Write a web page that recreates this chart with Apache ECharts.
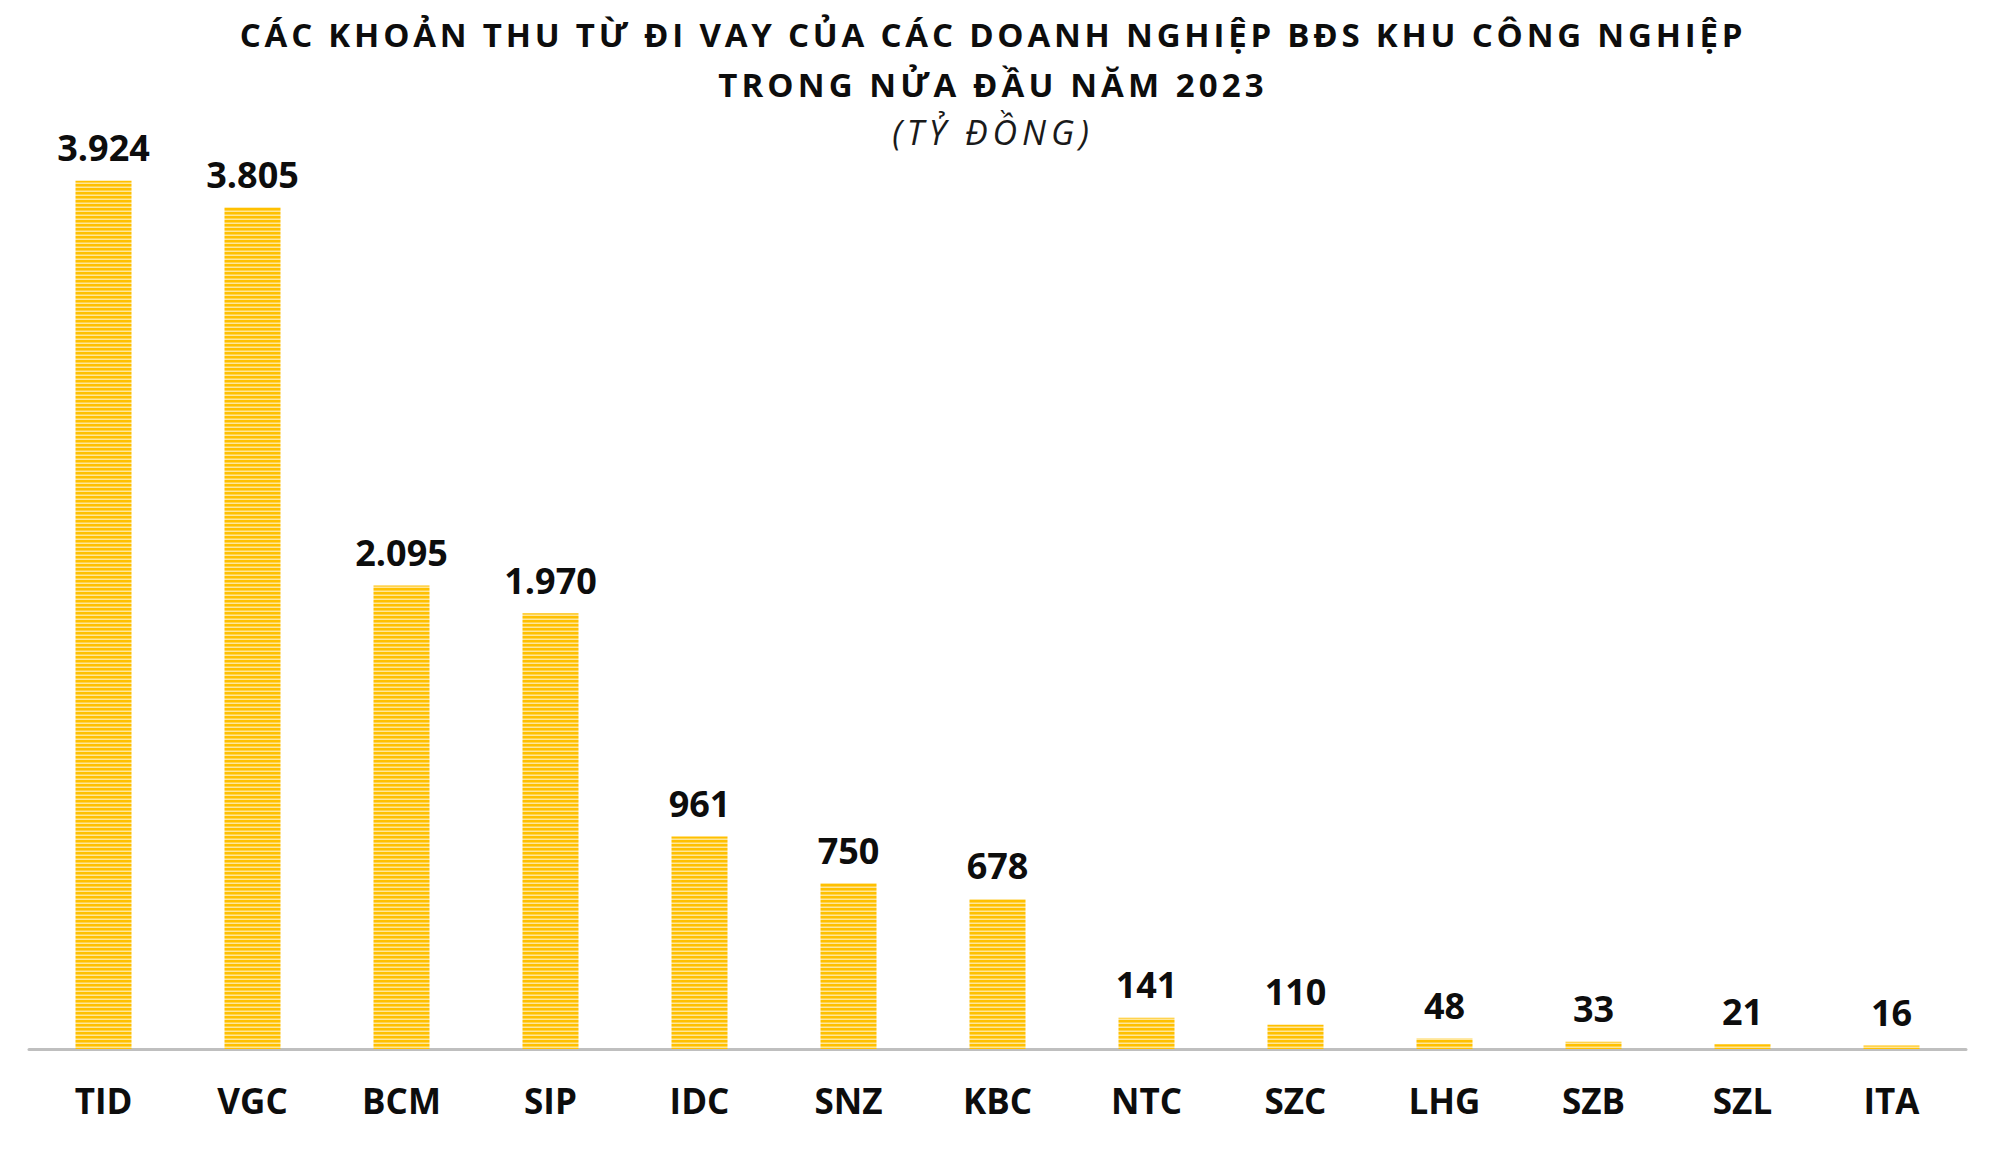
<!DOCTYPE html>
<html>
<head>
<meta charset="utf-8">
<title>Các khoản thu từ đi vay</title>
<script src="https://cdn.jsdelivr.net/npm/echarts@6/dist/echarts.min.js"></script>
<style>
  html, body { margin: 0; padding: 0; background: #fff; }
  #chart { width: 2000px; height: 1164px; }
</style>
</head>
<body>
<div id="chart"></div>
<script>
// data
var categories = ['TID', 'VGC', 'BCM', 'SIP', 'IDC', 'SNZ', 'KBC', 'NTC', 'SZC', 'LHG', 'SZB', 'SZL', 'ITA'];
var values = [3924, 3805, 2095, 1970, 961, 750, 678, 141, 110, 48, 33, 21, 16];
var titleLine1 = 'CÁC KHOẢN THU TỪ ĐI VAY CỦA CÁC DOANH NGHIỆP BĐS KHU CÔNG NGHIỆP';
var titleLine2 = 'TRONG NỬA ĐẦU NĂM 2023';
var unitText = '(TỶ ĐỒNG)';

// striped fill for the bars (yellow with pale lines)
function stripes() {
    var c = document.createElement('canvas');
    c.width = 8;
    c.height = 4;
    var ctx = c.getContext('2d');
    ctx.fillStyle = '#FFC000';
    ctx.fillRect(0, 0, 8, 4);
    ctx.fillStyle = '#FFE699';
    ctx.fillRect(0, 2.5, 8, 1.5);
    return c.toDataURL();
}

// 3924 -> "3.924"
function fmt(v) {
    return String(v).replace(/\B(?=(\d{3})+(?!\d))/g, '.');
}

var chart = echarts.init(document.getElementById('chart'), null, { renderer: 'svg' });

var titleFont = { fontFamily: 'Open Sans', fontWeight: 'bold', fontSize: 33, fill: '#0d0d0d', textAlign: 'center', textVerticalAlign: 'middle' };

chart.setOption({
    backgroundColor: '#ffffff',
    animation: false,
    graphic: [
        { type: 'text', x: 993, y: 34, style: Object.assign({ text: titleLine1 }, titleFont) },
        { type: 'text', x: 993, y: 84, style: Object.assign({ text: titleLine2 }, titleFont) },
        { type: 'text', x: 993, y: 132, style: { text: unitText, fontFamily: 'Open Sans', fontStyle: 'italic', fontSize: 34, fill: '#1a1a1a', textAlign: 'center', textVerticalAlign: 'middle' } }
    ],
    grid: {
        left: 29,
        right: 34,
        top: 164,
        bottom: 115
    },
    xAxis: {
        type: 'category',
        data: categories,
        axisLine: {
            lineStyle: { color: '#bfbfbf', width: 3 }
        },
        axisTick: { show: false },
        axisLabel: {
            margin: 34,
            fontFamily: 'Open Sans',
            fontWeight: 'bold',
            fontSize: 35,
            color: '#0d0d0d'
        }
    },
    yAxis: {
        type: 'value',
        min: 0,
        max: 4000,
        show: false,
        splitLine: { show: false }
    },
    series: [{
        type: 'bar',
        data: values,
        barWidth: 56,
        itemStyle: {
            color: { image: stripes(), repeat: 'repeat', imageWidth: 8, imageHeight: 4 }
        },
        label: {
            show: true,
            position: 'top',
            distance: 15,
            fontFamily: 'Open Sans',
            fontWeight: 'bold',
            fontSize: 36,
            color: '#0d0d0d',
            formatter: function (p) { return fmt(p.value); }
        }
    }]
});

// the headings are spaced out in the original
var spacing = {};
spacing[titleLine1] = '3.8px';
spacing[titleLine2] = '4.1px';
spacing[unitText] = '5px';
document.querySelectorAll('#chart svg text').forEach(function (t) {
    if (spacing[t.textContent]) t.style.letterSpacing = spacing[t.textContent];
});
</script>
</body>
</html>
